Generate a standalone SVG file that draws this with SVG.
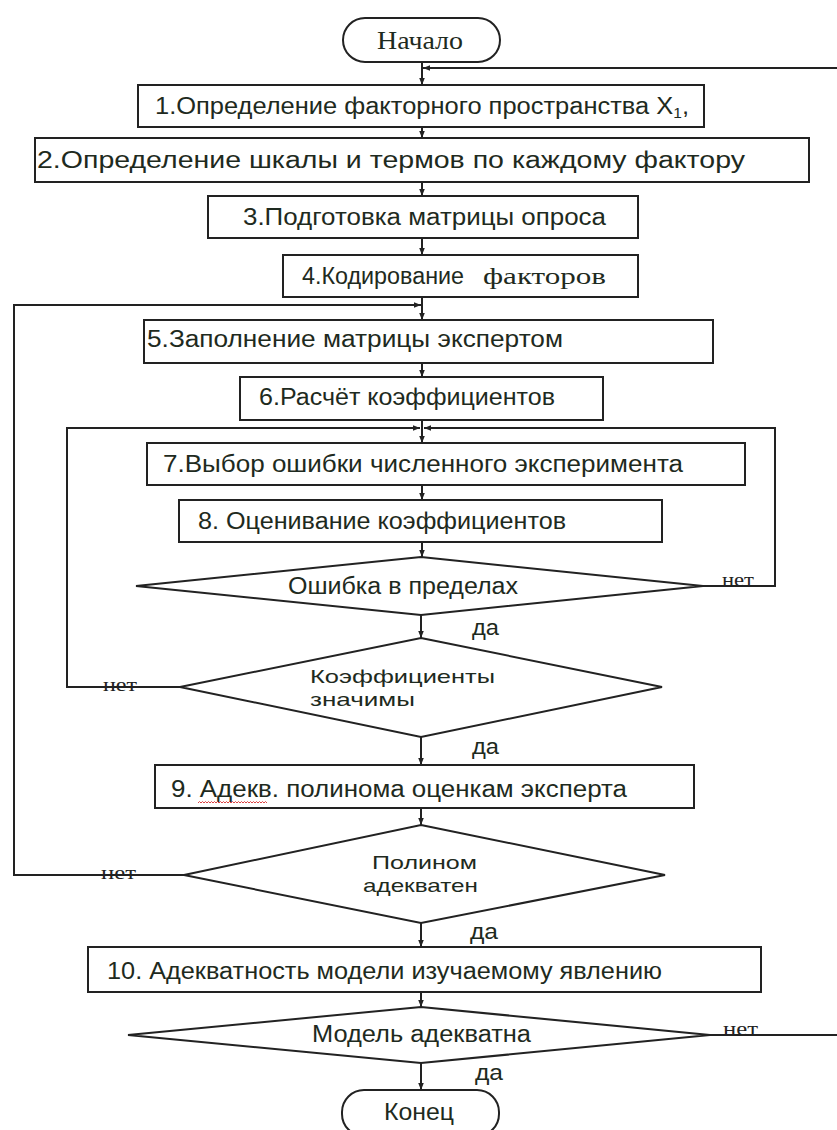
<svg xmlns="http://www.w3.org/2000/svg" width="837" height="1130" viewBox="0 0 837 1130">
<style>
.b{fill:#fff;stroke:#222;stroke-width:2}
.t{font-family:"Liberation Sans",Arial,sans-serif;font-size:23px;fill:#1e2a20}
.d{font-family:"Liberation Sans",Arial,sans-serif;font-size:19px;fill:#1e2a20}
.s{font-family:"Liberation Serif","Times New Roman",serif;fill:#1e2a20}
.l{font-family:"Liberation Sans",Arial,sans-serif;font-size:22px;fill:#1e2a20}
.n{font-family:"Liberation Serif","Times New Roman",serif;font-size:19px;fill:#222}
.c{fill:none;stroke:#222;stroke-width:2}
</style>
<defs>
<marker id="ah" viewBox="0 0 10 10" refX="10" refY="5" markerWidth="7" markerHeight="7" orient="auto-start-reverse" markerUnits="userSpaceOnUse"><path d="M0,1 L10,5 L0,9 z" fill="#222"/></marker>
</defs>
<rect width="837" height="1130" fill="#fff"/>
<g id="connectors">
<path class="c" d="M422,62 V85" marker-end="url(#ah)"/>
<path class="c" d="M837,68 H423" marker-end="url(#ah)"/>
<path class="c" d="M422,127 V138" marker-end="url(#ah)"/>
<path class="c" d="M422,182 V196" marker-end="url(#ah)"/>
<path class="c" d="M422,238 V255" marker-end="url(#ah)"/>
<path class="c" d="M422,297 V320" marker-end="url(#ah)"/>
<path class="c" d="M184,875 H14 V305 H421" marker-end="url(#ah)"/>
<path class="c" d="M422,363 V377" marker-end="url(#ah)"/>
<path class="c" d="M422,420 V443" marker-end="url(#ah)"/>
<path class="c" d="M180,687 H67 V428 H420" marker-end="url(#ah)"/>
<path class="c" d="M703,586 H775 V428 H424" marker-end="url(#ah)"/>
<path class="c" d="M422,485 V500" marker-end="url(#ah)"/>
<path class="c" d="M422,542 V557" marker-end="url(#ah)"/>
<path class="c" d="M421,615 V638" marker-end="url(#ah)"/>
<path class="c" d="M421,737 V765" marker-end="url(#ah)"/>
<path class="c" d="M421,808 V825" marker-end="url(#ah)"/>
<path class="c" d="M421,923 V947" marker-end="url(#ah)"/>
<path class="c" d="M421,992 V1007" marker-end="url(#ah)"/>
<path class="c" d="M710,1035 H837"/>
<path class="c" d="M421,1063 V1090" marker-end="url(#ah)"/>
<text class="l" x="472" y="635" textLength="27" lengthAdjust="spacingAndGlyphs">да</text>
<text class="l" x="472" y="754" textLength="27" lengthAdjust="spacingAndGlyphs">да</text>
<text class="l" x="470" y="939" textLength="28" lengthAdjust="spacingAndGlyphs">да</text>
<text class="l" x="475" y="1080" textLength="28" lengthAdjust="spacingAndGlyphs">да</text>
<text class="n" x="722" y="586" textLength="32" lengthAdjust="spacingAndGlyphs">нет</text>
<text class="n" x="103" y="691" textLength="34" lengthAdjust="spacingAndGlyphs">нет</text>
<text class="n" x="101" y="879" textLength="35" lengthAdjust="spacingAndGlyphs">нет</text>
<text class="n" x="723" y="1035" textLength="35" lengthAdjust="spacingAndGlyphs">нет</text>
</g>
<g id="start">
<rect class="b" x="343" y="18" width="157" height="44" rx="22"/>
<text class="s" font-size="26" x="377" y="49" textLength="86" lengthAdjust="spacingAndGlyphs">Начало</text>
</g>
<g id="step1">
<rect class="b" x="138" y="85" width="566" height="42"/>
<text class="t" x="155" y="114" textLength="534" lengthAdjust="spacingAndGlyphs">1.Определение факторного пространства X<tspan font-size="14" dy="4">1</tspan><tspan dy="-4">,</tspan></text>
</g>
<g id="step2">
<rect class="b" x="35" y="138" width="774" height="44"/>
<text class="t" x="37" y="168" textLength="708" lengthAdjust="spacingAndGlyphs">2.Определение шкалы и термов по каждому фактору</text>
</g>
<g id="step3">
<rect class="b" x="208" y="196" width="430" height="42"/>
<text class="t" x="243" y="225" textLength="363" lengthAdjust="spacingAndGlyphs">3.Подготовка матрицы опроса</text>
</g>
<g id="step4">
<rect class="b" x="283" y="255" width="355" height="42"/>
<text class="t" x="302" y="284" textLength="162" lengthAdjust="spacingAndGlyphs">4.Кодирование</text>
<text class="s" font-size="24" x="483" y="284" textLength="123" lengthAdjust="spacingAndGlyphs">факторов</text>
</g>
<g id="step5">
<rect class="b" x="144" y="320" width="569" height="43"/>
<text class="t" x="147" y="347" textLength="416" lengthAdjust="spacingAndGlyphs">5.Заполнение матрицы экспертом</text>
</g>
<g id="step6">
<rect class="b" x="240" y="377" width="363" height="43"/>
<text class="t" x="259" y="405" textLength="296" lengthAdjust="spacingAndGlyphs">6.Расчёт коэффициентов</text>
</g>
<g id="step7">
<rect class="b" x="147" y="443" width="598" height="42"/>
<text class="t" x="163" y="472" textLength="520" lengthAdjust="spacingAndGlyphs">7.Выбор ошибки численного  эксперимента</text>
</g>
<g id="step8">
<rect class="b" x="179" y="500" width="483" height="42"/>
<text class="t" x="198" y="529" textLength="368" lengthAdjust="spacingAndGlyphs">8. Оценивание коэффициентов</text>
</g>
<g id="decision1">
<polygon class="b" points="421,557 703,586 421,615 136,586"/>
<text class="t" x="288" y="594" textLength="230" lengthAdjust="spacingAndGlyphs">Ошибка в пределах</text>
</g>
<g id="decision2">
<polygon class="b" points="421,638 662,687 421,737 180,687"/>
<text class="d" x="310" y="683" textLength="185" lengthAdjust="spacingAndGlyphs">Коэффициенты</text>
<text class="d" x="310" y="706" textLength="105" lengthAdjust="spacingAndGlyphs">значимы</text>
</g>
<g id="step9">
<rect class="b" x="155" y="765" width="539" height="43"/>
<text class="t" x="171" y="797" textLength="456" lengthAdjust="spacingAndGlyphs">9. Адекв. полинома  оценкам эксперта</text>
<path d="M198,803 l1.5,-1.5 1.5,1.5 1.5,-1.5 1.5,1.5 1.5,-1.5 1.5,1.5 1.5,-1.5 1.5,1.5 1.5,-1.5 1.5,1.5 1.5,-1.5 1.5,1.5 1.5,-1.5 1.5,1.5 1.5,-1.5 1.5,1.5 1.5,-1.5 1.5,1.5 1.5,-1.5 1.5,1.5 1.5,-1.5 1.5,1.5 1.5,-1.5 1.5,1.5 1.5,-1.5 1.5,1.5 1.5,-1.5 1.5,1.5 1.5,-1.5 1.5,1.5 1.5,-1.5 1.5,1.5 1.5,-1.5 1.5,1.5 1.5,-1.5 1.5,1.5 1.5,-1.5 1.5,1.5 1.5,-1.5 1.5,1.5 1.5,-1.5 1.5,1.5 1.5,-1.5 1.5,1.5 1.5,-1.5 1.5,1.5" fill="none" stroke="#d44" stroke-width="1"/>
</g>
<g id="decision3">
<polygon class="b" points="421,825 665,875 421,923 184,875"/>
<text class="d" x="372" y="869" textLength="105" lengthAdjust="spacingAndGlyphs">Полином</text>
<text class="d" x="363" y="892" textLength="115" lengthAdjust="spacingAndGlyphs">адекватен</text>
</g>
<g id="step10">
<rect class="b" x="88" y="947" width="673" height="45"/>
<text class="t" x="107" y="979" textLength="555" lengthAdjust="spacingAndGlyphs">10. Адекватность модели изучаемому явлению</text>
</g>
<g id="decision4">
<polygon class="b" points="421,1007 710,1035 421,1063 128,1035"/>
<text class="t" x="312" y="1042" textLength="219" lengthAdjust="spacingAndGlyphs">Модель адекватна</text>
</g>
<g id="end">
<rect class="b" x="342" y="1090" width="157" height="46" rx="22"/>
<text class="t" x="384" y="1120" textLength="70" lengthAdjust="spacingAndGlyphs">Конец</text>
</g>
</svg>
